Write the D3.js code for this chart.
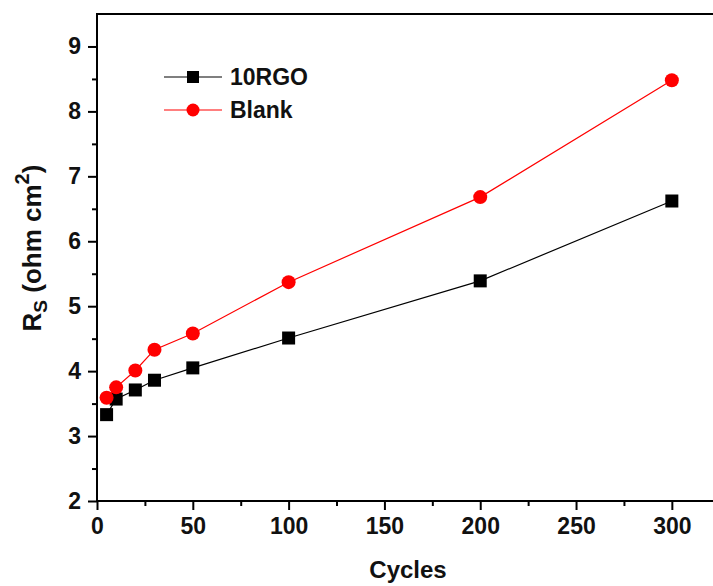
<!DOCTYPE html>
<html>
<head>
<meta charset="utf-8">
<script src="https://cdn.jsdelivr.net/npm/d3@7"></script>
<style>
  body { margin: 0; background: #fff; }
  svg text { font-family: Arial, "Liberation Sans", sans-serif; font-weight: bold; fill: #111; }
</style>
</head>
<body>
<svg width="713" height="586"></svg>
<script>
// data
const cycles = [5, 10, 20, 30, 50, 100, 200, 300];
const rgo = [3.33, 3.57, 3.71, 3.86, 4.05, 4.51, 5.39, 6.62];
const blank = [3.59, 3.75, 4.01, 4.33, 4.58, 5.37, 6.68, 8.48];
const seriesNames = ['10RGO', 'Blank'];
const xTicks = [0, 50, 100, 150, 200, 250, 300];
const yTicks = [2, 3, 4, 5, 6, 7, 8, 9];

const margin = {left: 97, top: 14, bottom: 85};
const width = 713, height = 586;

const svg = d3.select('svg');

const x = d3.scaleLinear().domain([0, 322]).range([margin.left, 714]);
const y = d3.scaleLinear().domain([2, 9.5]).range([height - margin.bottom, margin.top]);

// frame
svg.append('rect')
  .attr('x', x(0)).attr('y', y(9.5))
  .attr('width', x(322) - x(0) + 4).attr('height', y(2) - y(9.5))
  .attr('fill', 'none').attr('stroke', '#000').attr('stroke-width', 2);

// minor ticks
const xMinor = d3.range(25, 322, 50);
const yMinor = d3.range(2.5, 9.5, 1);

svg.append('g')
  .attr('transform', 'translate(0,' + y(2) + ')')
  .call(d3.axisBottom(x).tickValues(xTicks).tickSize(9).tickPadding(8).tickFormat(d3.format('d')));
svg.append('g')
  .attr('transform', 'translate(0,' + y(2) + ')')
  .call(d3.axisBottom(x).tickValues(xMinor).tickSize(5).tickFormat(''));

svg.append('g')
  .attr('transform', 'translate(' + x(0) + ',0)')
  .call(d3.axisLeft(y).tickValues(yTicks).tickSize(9).tickPadding(7).tickFormat(d3.format('d')));
svg.append('g')
  .attr('transform', 'translate(' + x(0) + ',0)')
  .call(d3.axisLeft(y).tickValues(yMinor).tickSize(5).tickFormat(''));

svg.selectAll('.domain').remove();
svg.selectAll('.tick line').attr('stroke', '#000').attr('stroke-width', 2);
svg.selectAll('.tick text').attr('font-size', 23).style('font-family', 'Arial, "Liberation Sans", sans-serif').style('font-weight', 'bold').attr('fill', '#111');

// series
const series = [
  {name: seriesNames[0], values: rgo, color: '#000', shape: 'square'},
  {name: seriesNames[1], values: blank, color: '#ff0000', shape: 'circle'}
];

const line = d3.line()
  .x(d => x(d[0]))
  .y(d => y(d[1]));

series.forEach(s => {
  const pts = cycles.map((c, i) => [c, s.values[i]]);
  svg.append('path')
    .datum(pts)
    .attr('d', line)
    .attr('fill', 'none')
    .attr('stroke', s.color)
    .attr('stroke-width', 1.2);
  if (s.shape === 'square') {
    svg.selectAll(null).data(pts).enter().append('rect')
      .attr('x', d => x(d[0]) - 6.5)
      .attr('y', d => y(d[1]) - 6.5)
      .attr('width', 13).attr('height', 13)
      .attr('fill', s.color);
  } else {
    svg.selectAll(null).data(pts).enter().append('circle')
      .attr('cx', d => x(d[0]))
      .attr('cy', d => y(d[1]))
      .attr('r', 7)
      .attr('fill', s.color);
  }
});

// legend
const legend = svg.append('g').attr('transform', 'translate(164,77)');
series.forEach((s, i) => {
  const g = legend.append('g').attr('transform', 'translate(0,' + i * 33 + ')');
  g.append('line').attr('x1', 0).attr('x2', 58).attr('y1', 0).attr('y2', 0)
    .attr('stroke', s.color).attr('stroke-width', 1.2);
  if (s.shape === 'square') {
    g.append('rect').attr('x', 29 - 6).attr('y', -6).attr('width', 12).attr('height', 12).attr('fill', s.color);
  } else {
    g.append('circle').attr('cx', 29).attr('cy', 0).attr('r', 6.5).attr('fill', s.color);
  }
  g.append('text').attr('x', 66).attr('y', 8).attr('font-size', 23).text(s.name);
});

// axis titles
svg.append('text')
  .attr('x', 408).attr('y', 578)
  .attr('text-anchor', 'middle')
  .attr('font-size', 24)
  .text('Cycles');

const yt = svg.append('text')
  .attr('transform', 'translate(41,248) rotate(-90)')
  .attr('text-anchor', 'middle')
  .attr('font-size', 26);
yt.append('tspan').text('R');
yt.append('tspan').attr('font-size', 19).attr('dy', 6).text('S');
yt.append('tspan').attr('dy', -6).text(' (ohm cm');
yt.append('tspan').attr('font-size', 20).attr('dy', -12).text('2');
yt.append('tspan').attr('dy', 12).text(')');
</script>
</body>
</html>
